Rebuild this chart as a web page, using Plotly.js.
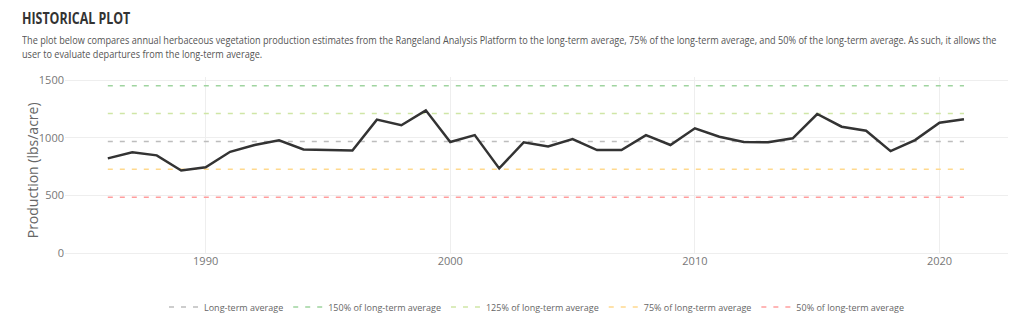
<!DOCTYPE html>
<html>
<head>
<meta charset="utf-8">
<script src="https://cdn.plot.ly/plotly-3.0.1.min.js"></script>
<style>
  html, body { margin: 0; padding: 0; background: #fff; width: 1024px; height: 330px; overflow: hidden; }
  #chart { position: absolute; left: 0; top: 0; width: 1024px; height: 330px; }
  #hdr { position: absolute; left: 22px; top: 8px; z-index: 5; font-family: 'Open Sans', sans-serif; }
  #hdr h1 { margin: 0; font-size: 15.5px; font-weight: 700; color: #333; letter-spacing: 0; line-height: 21px;
            transform: scaleX(0.80); transform-origin: 0 0; white-space: nowrap; }
  #hdr p { margin: 4px 0 0 0; font-size: 10.5px; line-height: 14px; color: #555; width: 1132px;
           transform: scaleX(0.87); transform-origin: 0 0; }
</style>
</head>
<body>
<div id="hdr">
  <h1>HISTORICAL PLOT</h1>
  <p>The plot below compares annual herbaceous vegetation production estimates from the Rangeland Analysis Platform to the long-term average, 75% of the long-term average, and 50% of the long-term average. As such, it allows the user to evaluate departures from the long-term average.</p>
</div>
<div id="chart"></div>
<script>
const years = [1986,1987,1988,1989,1990,1991,1992,1993,1994,1995,1996,1997,1998,1999,2000,2001,2002,2003,2004,2005,2006,2007,2008,2009,2010,2011,2012,2013,2014,2015,2016,2017,2018,2019,2020,2021];
const production = [821,873,847,716,743,878,937,977,899,896,890,1157,1108,1238,963,1023,734,960,925,989,893,893,1023,937,1082,1009,963,960,995,1206,1096,1061,884,980,1130,1160];

const refLabels = ['Long-term average','150% of long-term average','125% of long-term average','75% of long-term average','50% of long-term average'];
const refValues = [968, 1452, 1210, 726, 484];
const refColors = ['#bdbdbd','#9fd49f','#cfe6a6','#ffd98e','#ff9e9e'];

const xStart = years[0], xEnd = years[years.length-1];

const traces = [];
refLabels.forEach((lab, i) => {
  traces.push({
    type: 'scatter', mode: 'lines',
    x: [xStart, xEnd], y: [refValues[i], refValues[i]],
    name: lab,
    line: { color: refColors[i], width: 1.5, dash: '5px,7px' },
    hoverinfo: 'skip'
  });
});
traces.push({
  type: 'scatter', mode: 'lines',
  x: years, y: production,
  name: 'Production',
  showlegend: false,
  line: { color: '#333333', width: 2.5 }
});

const layout = {
  width: 1024, height: 330,
  margin: { l: 65, r: 16, t: 77, b: 77, autoexpand: false },
  paper_bgcolor: 'rgba(0,0,0,0)',
  plot_bgcolor: '#fff',
  font: { family: 'Open Sans, sans-serif', color: '#777', size: 11 },
  showlegend: true,
  legend: {
    orientation: 'h', x: 0.5, xanchor: 'center', y: -0.225, yanchor: 'top',
    font: { size: 9, color: '#666' }, traceorder: 'normal', itemwidth: 30
  },
  xaxis: {
    range: [1984.25, 2022.8],
    tickvals: [1990, 2000, 2010, 2020],
    showgrid: true, gridcolor: '#eeeeee', zeroline: false, showline: false,
    ticks: '', tickfont: { size: 11, color: '#777' }
  },
  yaxis: {
    range: [0, 1527],
    tickvals: [0, 500, 1000, 1500],
    showgrid: true, gridcolor: '#eeeeee', zeroline: true, zerolinecolor: '#eeeeee', showline: false,
    ticks: '', tickfont: { size: 11, color: '#777' }
  },
  annotations: [{
    text: 'Production (lbs/acre)', textangle: -90, showarrow: false,
    xref: 'paper', yref: 'paper', x: -0.035, y: 0.47, xanchor: 'center', yanchor: 'middle',
    font: { size: 14, color: '#666' }
  }]
};

Plotly.newPlot('chart', traces, layout, { displayModeBar: false, staticPlot: true });
</script>
</body>
</html>
